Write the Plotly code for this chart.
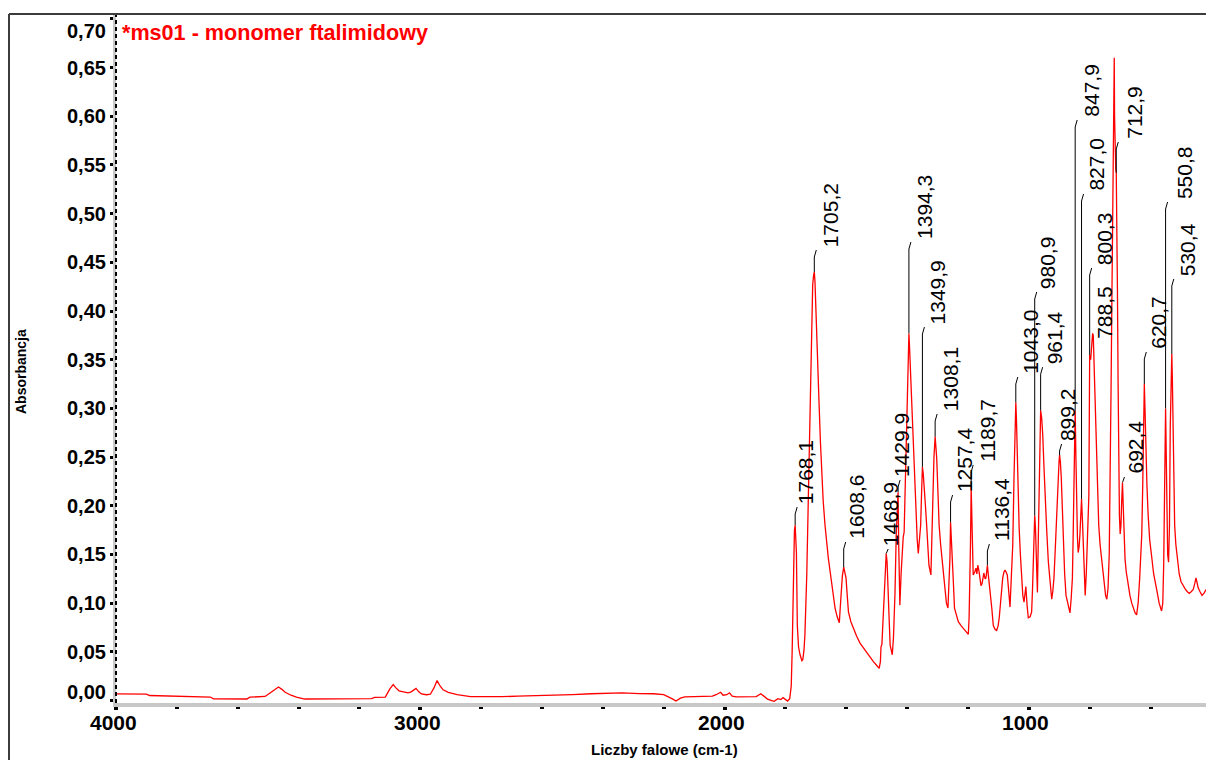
import plotly.graph_objects as go

# ---------------- data ----------------
wavenumber = [
    4000, 3900, 3890, 3800, 3790, 3690, 3680, 3570, 3560, 3510, 3495, 3480, 3466, 3455, 3444, 3425,
    3407, 3380, 3300, 3200, 3160, 3150, 3115, 3100, 3089, 3080, 3070, 3055, 3040, 3030, 3022, 3014,
    3005, 2996, 2980, 2967, 2955, 2945, 2935, 2925, 2908, 2890, 2879, 2835, 2780, 2732, 2680, 2586,
    2540, 2500, 2439, 2400, 2336, 2280, 2233, 2200, 2189, 2170, 2160, 2145, 2131, 2080, 2040, 2028,
    2013, 2005, 1993, 1984, 1975, 1962, 1920, 1896, 1881, 1870, 1859, 1845, 1837, 1825, 1815, 1808,
    1800, 1793, 1786, 1781, 1778, 1776, 1773, 1770.5, 1768.1, 1766, 1764, 1761, 1757, 1752, 1746,
    1743, 1739, 1736, 1733, 1730, 1726, 1722, 1719, 1717, 1714, 1710.5, 1707.5, 1705.2, 1703, 1702,
    1699, 1695.6, 1692, 1689, 1685, 1681, 1676, 1670, 1665, 1659, 1653, 1648, 1642, 1637, 1630, 1623,
    1620, 1617.5, 1613, 1608.6, 1605, 1601, 1597, 1593, 1585, 1577, 1566, 1555, 1544, 1533, 1522,
    1511, 1500, 1492, 1488, 1486, 1483, 1479, 1474, 1471, 1468.9, 1466, 1464, 1460, 1456, 1452, 1449,
    1445, 1440, 1436, 1432, 1429.9, 1428, 1426, 1424, 1420, 1416, 1413, 1410, 1407.5, 1405, 1402,
    1399.5, 1396, 1394.3, 1392.5, 1390.8, 1387.5, 1384, 1381, 1377.6, 1374, 1371, 1367, 1363.5,
    1359.5, 1355.7, 1352.5, 1349.9, 1347, 1344, 1340, 1336, 1332, 1328.5, 1322, 1319, 1316, 1312,
    1308.1, 1305.5, 1303, 1299, 1295, 1290, 1284, 1280, 1276, 1271, 1266, 1262.5, 1259.5, 1257.4,
    1255, 1251, 1248, 1244.5, 1238, 1232, 1223, 1215, 1207, 1199, 1196.5, 1194.5, 1192, 1189.7, 1187,
    1185, 1183, 1178, 1174, 1171, 1168, 1164, 1161, 1157.5, 1154, 1151, 1148, 1144, 1141, 1138.5,
    1136.4, 1133, 1130, 1126, 1122, 1117, 1111, 1106, 1101, 1097.5, 1092, 1086, 1082, 1078.5, 1075,
    1071, 1067, 1062, 1058, 1053, 1049, 1046, 1043.0, 1041, 1039, 1035.5, 1032, 1028, 1024, 1020, 1016,
    1013, 1010, 1006, 1002, 996, 991, 988, 986, 983, 980.9, 978.5, 976.6, 974, 972, 970, 967.6, 964.5,
    961.4, 958, 954.5, 950.5, 947, 941.5, 936, 930.5, 925, 921.5, 917.6, 913, 909, 904, 901, 899.2,
    896.5, 893.5, 890, 887, 882.5, 878, 871, 865, 861, 857, 854.5, 852, 849.5, 847.9, 845.5, 843,
    840.5, 838, 835, 832.4, 829.5, 827.0, 824, 821.3, 818, 815, 811.5, 808, 803, 800.3, 797, 793.5,
    790.5, 788.5, 786, 783, 779, 775, 770.5, 766, 760, 754, 748, 744, 740, 736, 733, 730, 727, 724.5,
    722, 720.5, 719.5, 718.5, 716.5, 714.5, 712.9, 711, 709, 707, 705, 702.5, 700, 697.5, 695, 692.4,
    690, 687.5, 684, 680, 675, 668, 662, 657, 651, 646, 641, 636, 632, 629, 626, 623, 620.7, 618.5,
    616, 612, 608, 603, 597, 590, 580, 572, 564, 560, 557, 554, 552, 550.8, 549, 546.5, 544, 541, 538,
    535.5, 533, 531.5, 530.4, 528.5, 526.5, 524, 521, 517, 512, 506, 500, 494, 487, 480, 473, 466,
    460, 455, 451, 448, 444, 438, 431, 425, 418,
]
absorbance = [
    0.0068, 0.0067, 0.0052, 0.0048, 0.0040, 0.0036, 0.0018, 0.0016, 0.0035, 0.0042, 0.0075, 0.0110,
    0.0140, 0.0115, 0.0085, 0.0055, 0.0035, 0.0016, 0.0016, 0.0017, 0.0020, 0.0032, 0.0035, 0.0120,
    0.0165, 0.0130, 0.0100, 0.0090, 0.0080, 0.0090, 0.0105, 0.0125, 0.0090, 0.0068, 0.0060, 0.0065,
    0.0130, 0.0205, 0.0150, 0.0110, 0.0085, 0.0070, 0.0060, 0.0040, 0.0038, 0.0040, 0.0045, 0.0050,
    0.0055, 0.0062, 0.0070, 0.0075, 0.0078, 0.0072, 0.0070, 0.0060, 0.0045, 0.0015, -0.0005, 0.0025,
    0.0037, 0.0040, 0.0045, 0.0060, 0.0085, 0.0055, 0.0060, 0.0080, 0.0045, 0.0038, 0.0040, 0.0040,
    0.0070, 0.0045, 0.0015, 0.0000, -0.0008, 0.0020, 0.0010, 0.0030, 0.0015, -0.0005, 0.0020, 0.0150,
    0.050, 0.085, 0.150, 0.175, 0.180, 0.170, 0.152, 0.077, 0.055, 0.047, 0.041, 0.042, 0.052, 0.068,
    0.095, 0.129, 0.190, 0.249, 0.300, 0.352, 0.400, 0.427, 0.437, 0.440, 0.430, 0.419, 0.395, 0.367,
    0.330, 0.300, 0.265, 0.231, 0.205, 0.180, 0.162, 0.146, 0.132, 0.119, 0.106, 0.095, 0.086, 0.080,
    0.095, 0.111, 0.128, 0.137, 0.133, 0.126, 0.108, 0.091, 0.081, 0.074, 0.066, 0.059, 0.054, 0.049,
    0.044, 0.040, 0.036, 0.033, 0.040, 0.055, 0.058, 0.085, 0.111, 0.140, 0.151, 0.142, 0.129, 0.090,
    0.057, 0.050, 0.047, 0.065, 0.111, 0.170, 0.210, 0.214, 0.163, 0.120, 0.098, 0.130, 0.163, 0.168,
    0.173, 0.210, 0.249, 0.290, 0.334, 0.372, 0.377, 0.365, 0.351, 0.325, 0.296, 0.270, 0.242, 0.215,
    0.187, 0.165, 0.151, 0.163, 0.180, 0.215, 0.240, 0.232, 0.221, 0.200, 0.180, 0.160, 0.139, 0.129,
    0.170, 0.214, 0.250, 0.271, 0.262, 0.249, 0.215, 0.180, 0.160, 0.139, 0.125, 0.111, 0.100, 0.095,
    0.120, 0.146, 0.183, 0.170, 0.146, 0.120, 0.095, 0.087, 0.081, 0.077, 0.074, 0.071, 0.068, 0.085,
    0.111, 0.160, 0.219, 0.180, 0.150, 0.129, 0.132, 0.136, 0.130, 0.139, 0.133, 0.126, 0.118, 0.120,
    0.128, 0.131, 0.125, 0.126, 0.133, 0.139, 0.128, 0.120, 0.111, 0.095, 0.077, 0.073, 0.072, 0.077,
    0.085, 0.105, 0.126, 0.132, 0.134, 0.132, 0.129, 0.115, 0.096, 0.125, 0.160, 0.228, 0.285, 0.306,
    0.290, 0.261, 0.215, 0.177, 0.150, 0.126, 0.108, 0.101, 0.110, 0.117, 0.098, 0.085, 0.086, 0.091,
    0.115, 0.142, 0.175, 0.190, 0.178, 0.160, 0.130, 0.111, 0.150, 0.193, 0.250, 0.298, 0.290, 0.273,
    0.240, 0.209, 0.175, 0.142, 0.120, 0.104, 0.112, 0.126, 0.158, 0.193, 0.225, 0.245, 0.252, 0.245,
    0.228, 0.195, 0.160, 0.130, 0.108, 0.098, 0.090, 0.105, 0.126, 0.170, 0.228, 0.280, 0.298, 0.250,
    0.193, 0.168, 0.152, 0.158, 0.170, 0.190, 0.207, 0.185, 0.160, 0.130, 0.108, 0.130, 0.160, 0.210,
    0.355, 0.350, 0.365, 0.377, 0.375, 0.345, 0.313, 0.260, 0.209, 0.180, 0.160, 0.140, 0.120, 0.108,
    0.104, 0.115, 0.150, 0.220, 0.320, 0.420, 0.500, 0.550, 0.600, 0.660, 0.600, 0.555, 0.545, 0.542,
    0.500, 0.420, 0.330, 0.250, 0.190, 0.171, 0.180, 0.205, 0.224, 0.200, 0.165, 0.145, 0.132, 0.120,
    0.108, 0.100, 0.095, 0.090, 0.088, 0.100, 0.125, 0.150, 0.171, 0.220, 0.285, 0.325, 0.300, 0.260,
    0.220, 0.190, 0.165, 0.149, 0.130, 0.114, 0.100, 0.092, 0.100, 0.140, 0.220, 0.270, 0.300, 0.260,
    0.190, 0.150, 0.142, 0.180, 0.280, 0.320, 0.345, 0.356, 0.330, 0.280, 0.220, 0.180, 0.160, 0.145,
    0.130, 0.122, 0.118, 0.115, 0.112, 0.110, 0.112, 0.114, 0.120, 0.126, 0.122, 0.116, 0.112, 0.108,
    0.110, 0.114,
]

peak_wn = [1768.1, 1705.2, 1608.6, 1468.9, 1429.9, 1394.3, 1349.9, 1308.1, 1257.4, 1189.7, 1136.4,
           1043.0, 980.9, 961.4, 899.2, 847.9, 827.0, 800.3, 788.5, 712.9, 692.4, 620.7, 550.8, 530.4]
peak_abs = [0.180, 0.440, 0.137, 0.151, 0.214, 0.377, 0.240, 0.271, 0.183, 0.219, 0.139,
            0.306, 0.190, 0.298, 0.252, 0.298, 0.207, 0.355, 0.375, 0.542, 0.224, 0.325, 0.300, 0.356]
peak_text = ["1768,1", "1705,2", "1608,6", "1468,9", "1429,9", "1394,3", "1349,9", "1308,1", "1257,4",
             "1189,7", "1136,4", "1043,0", "980,9", "961,4", "899,2", "847,9", "827,0", "800,3",
             "788,5", "712,9", "692,4", "620,7", "550,8", "530,4"]

y_ticks = [0.00, 0.05, 0.10, 0.15, 0.20, 0.25, 0.30, 0.35, 0.40, 0.45, 0.50, 0.55, 0.60, 0.65, 0.70]
y_tick_text = ["0,00", "0,05", "0,10", "0,15", "0,20", "0,25", "0,30", "0,35", "0,40", "0,45",
               "0,50", "0,55", "0,60", "0,65", "0,70"]
x_ticks = [4000, 3000, 2000, 1000]
x_tick_text = ["4000", "3000", "2000", "1000"]
x_minor = [3800, 3600, 3400, 3200, 2800, 2600, 2400, 2200, 1800, 1600, 1400, 1200, 800, 600]

# ---------------- layout of the peak labels (label base value, px offset) -------------
label_base = [0.2008, 0.4647, 0.1649, 0.1577, 0.2285, 0.4729, 0.3856, 0.2963, 0.2131, 0.2439, 0.1628,
              0.3343, 0.4216, 0.3444, 0.2655, 0.5982, 0.5222, 0.4462, 0.3702, 0.5756, 0.2316, 0.3600,
              0.5140, 0.4350]
label_dx = [10, 16, 13, 5, 3, 15, 15, 15, 14, 16, 14, 14, 13, 14, 8, 16, 14.5, 15, 11, 18, 13.5, 14, 19, 16]

FONT = "Liberation Sans, Arial, sans-serif"
W, H = 1206, 760
L, T, B = 116, 14, 57
PW, PH = W - L, H - T - B
Y_RANGE = [-0.0025, 0.705]
X_RANGE = [4000, 418]
PX_PER_WN = PW / (X_RANGE[0] - X_RANGE[1])
PX_PER_ABS = PH / (Y_RANGE[1] - Y_RANGE[0])

fig = go.Figure()
fig.add_trace(go.Scatter(x=wavenumber, y=absorbance, mode="lines",
                         line=dict(color="#ff0000", width=1.3), hoverinfo="skip", showlegend=False))

shapes = []
annotations = []
for wn, pk, txt, base, dx in zip(peak_wn, peak_abs, peak_text, label_base, label_dx):
    top = base - 2 / PX_PER_ABS
    bend = top - 7 / PX_PER_ABS
    if bend > pk:
        shapes.append(dict(type="line", xref="x", yref="y", x0=wn, x1=wn, y0=pk, y1=bend,
                           line=dict(color="black", width=1)))
        shapes.append(dict(type="line", xref="x", yref="y", x0=wn, x1=wn - 2 / PX_PER_WN, y0=bend, y1=top,
                           line=dict(color="black", width=1)))
    elif top > pk:
        shapes.append(dict(type="line", xref="x", yref="y", x0=wn, x1=wn - 2 / PX_PER_WN, y0=pk, y1=top,
                           line=dict(color="black", width=1)))
    annotations.append(dict(x=wn, y=base, xref="x", yref="y", text=txt, textangle=-90,
                            showarrow=False, xanchor="center", yanchor="bottom", xshift=dx,
                            borderpad=0,
                            font=dict(family=FONT, size=21, color="black")))

# y tick labels (end labels pulled inside the frame, as in the reference)
for v, t in zip(y_ticks, y_tick_text):
    ys = -12 if v == max(y_ticks) else (9 if v == min(y_ticks) else 0)
    annotations.append(dict(x=0, y=v, xref="paper", yref="y", text=f"<b>{t}</b>", showarrow=False,
                            xanchor="right", yanchor="middle", xshift=-8, yshift=ys,
                            font=dict(family=FONT, size=20, color="black")))
# x tick labels
for v, t in zip(x_ticks, x_tick_text):
    annotations.append(dict(x=v, y=0, xref="x", yref="paper", text=f"<b>{t}</b>", showarrow=False,
                            xanchor="center", yanchor="middle", xshift=-3, yshift=-19,
                            font=dict(family=FONT, size=21, color="black")))

# dashed y axis overlay
shapes.append(dict(type="line", xref="paper", yref="paper", x0=0, x1=0, y0=0, y1=1,
                   line=dict(color="black", width=2, dash="4px,3px")))
# outer frame (left + top)
fx = -107 / PW
shapes.append(dict(type="line", xref="paper", yref="paper", x0=fx, x1=1.01, y0=1, y1=1,
                   line=dict(color="#3c3c3c", width=2)))
shapes.append(dict(type="line", xref="paper", yref="paper", x0=fx, x1=fx, y0=1, y1=-0.2,
                   line=dict(color="#3c3c3c", width=2)))

annotations.append(dict(x=4 / PW, y=(H - B - 32) / PH, xref="paper", yref="paper",
                        text="<b>*ms01 - monomer ftalimidowy</b>", showarrow=False,
                        xanchor="left", yanchor="middle",
                        font=dict(family=FONT, size=21.6, color="#ff0000")))
annotations.append(dict(x=(21 - L) / PW, y=(H - B - 372) / PH, xref="paper", yref="paper",
                        text="<b>Absorbancja</b>", textangle=-90, showarrow=False,
                        xanchor="center", yanchor="middle",
                        font=dict(family=FONT, size=14, color="black")))
annotations.append(dict(x=(664 - L) / PW, y=(H - B - 749) / PH, xref="paper", yref="paper",
                        text="<b>Liczby falowe (cm-1)</b>", showarrow=False,
                        xanchor="center", yanchor="middle",
                        font=dict(family=FONT, size=15, color="black")))

fig.update_layout(
    width=W, height=H,
    margin=dict(l=L, r=0, t=T, b=B),
    paper_bgcolor="white", plot_bgcolor="white",
    shapes=shapes, annotations=annotations,
    showlegend=False,
)
fig.update_xaxes(range=X_RANGE, tickmode="array", tickvals=x_ticks, showticklabels=False,
                 showgrid=False, zeroline=False, showline=True, linecolor="#c8c8c8", linewidth=4,
                 ticks="outside", ticklen=3, tickwidth=4, tickcolor="black",
                 minor=dict(tickmode="array", tickvals=x_minor, ticks="outside", ticklen=2,
                            tickwidth=4, tickcolor="black", showgrid=False))
fig.update_yaxes(range=Y_RANGE, tickmode="array", tickvals=y_ticks, showticklabels=False,
                 showgrid=False, zeroline=False, showline=True, linecolor="#c8c8c8", linewidth=3,
                 ticks="outside", ticklen=3, tickwidth=3, tickcolor="black")

fig.write_html(
    "out.html",
    config={"displayModeBar": False, "staticPlot": True},
    post_script="document.body.style.margin='0';document.body.style.padding='0';"
                "document.documentElement.style.overflow='hidden';",
)
